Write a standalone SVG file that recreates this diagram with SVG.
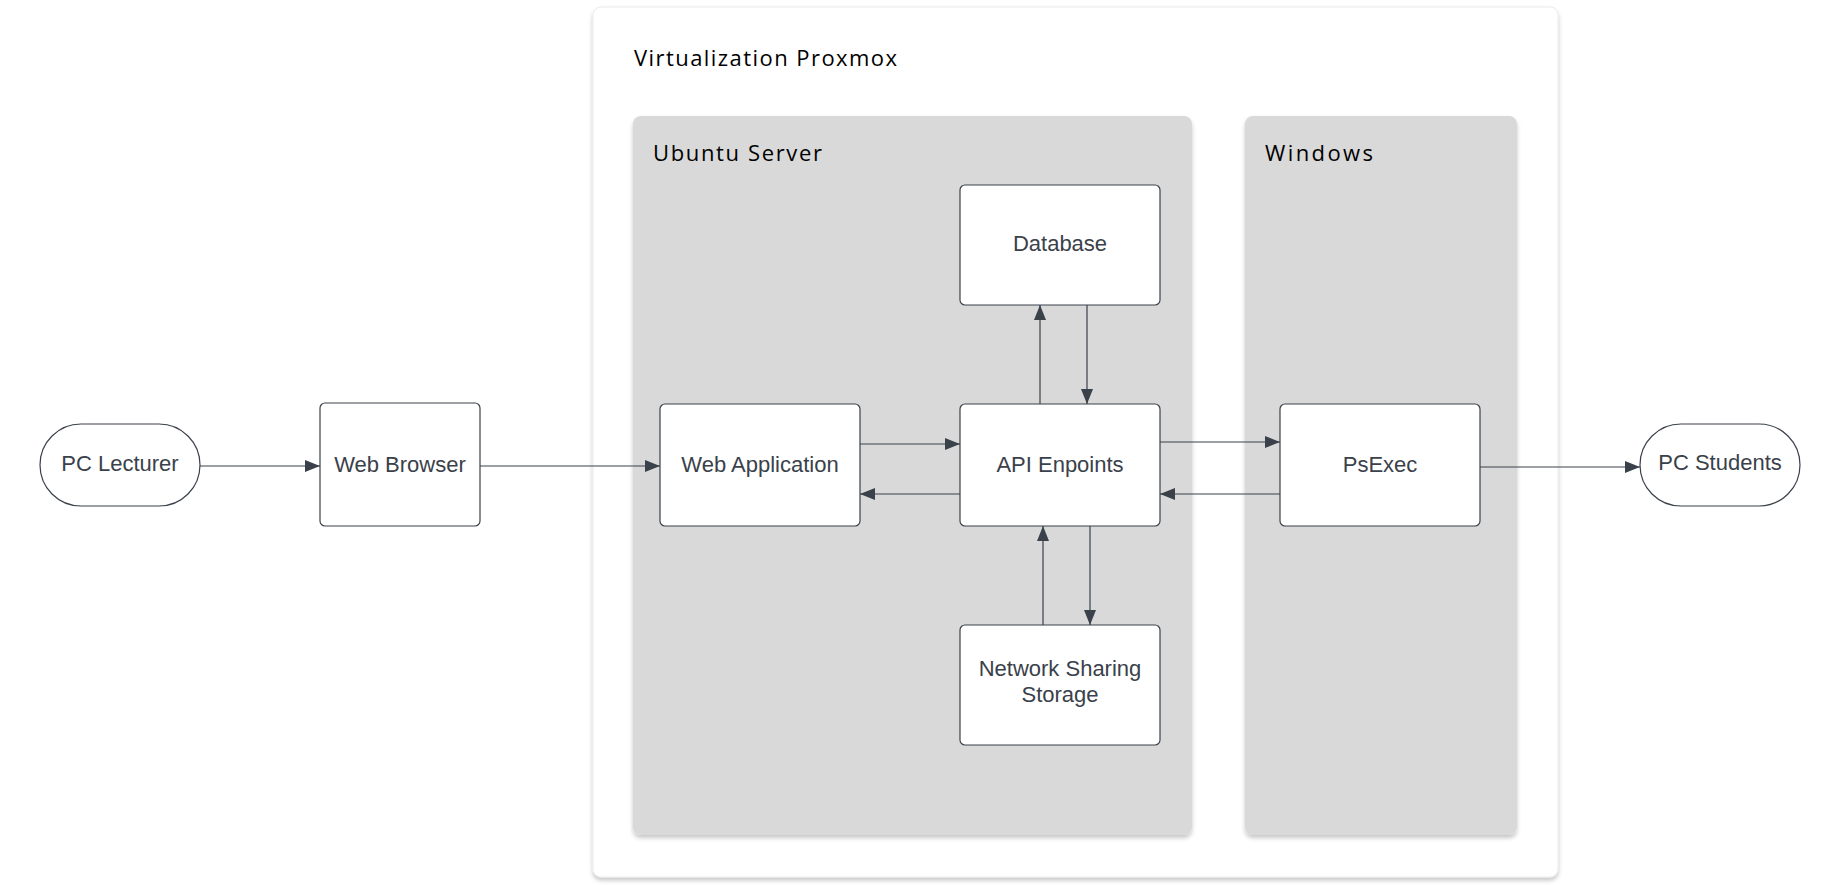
<svg xmlns="http://www.w3.org/2000/svg" width="1840" height="885" viewBox="0 0 1840 885">
<style>
.node{fill:#ffffff;stroke:#3a414a;stroke-width:1.2}
.lbl{font-family:"Liberation Sans",Arial,sans-serif;font-size:22px;fill:#3a414a;text-anchor:middle}
.title{font-family:"Open Sans","Noto Sans",sans-serif;font-size:22px;fill:#000000}
.panel{fill:#d9d9d9}
.edge{fill:none;stroke:#3a414a;stroke-width:1.2}
</style>
<defs>
<filter id="sh" x="-5%" y="-5%" width="110%" height="110%">
<feDropShadow dx="0" dy="3" stdDeviation="2" flood-color="#000" flood-opacity="0.22"/>
</filter>
<marker id="ah" markerUnits="userSpaceOnUse" markerWidth="16" markerHeight="12" refX="15" refY="6" orient="auto">
<path d="M0,0 L15,6 L0,12 Z" fill="#3a414a"/>
</marker>
</defs>
<rect width="1840" height="885" fill="#ffffff"/>
<g id="proxmox">
<rect x="593" y="7" width="965" height="870" rx="8" fill="#ffffff" stroke="#ebebeb" stroke-width="1" filter="url(#sh)"/>
<text class="title" x="634" y="66" textLength="263" lengthAdjust="spacing">Virtualization Proxmox</text>
</g>
<g id="ubuntu">
<rect class="panel" x="633" y="116" width="559" height="719" rx="8" filter="url(#sh)"/>
<text class="title" x="653" y="161" textLength="169" lengthAdjust="spacing">Ubuntu Server</text>
</g>
<g id="windows">
<rect class="panel" x="1245" y="116" width="272" height="719" rx="8" filter="url(#sh)"/>
<text class="title" x="1265" y="161" textLength="108" lengthAdjust="spacing">Windows</text>
</g>
<g id="connectors">
<path class="edge" d="M200,466 L320,466" marker-end="url(#ah)"/>
<path class="edge" d="M480,466 L660,466" marker-end="url(#ah)"/>
<path class="edge" d="M860,444 L960,444" marker-end="url(#ah)"/>
<path class="edge" d="M960,494 L860,494" marker-end="url(#ah)"/>
<path class="edge" d="M1040,404 L1040,305" marker-end="url(#ah)"/>
<path class="edge" d="M1087,305 L1087,404" marker-end="url(#ah)"/>
<path class="edge" d="M1160,442 L1280,442" marker-end="url(#ah)"/>
<path class="edge" d="M1280,494 L1160,494" marker-end="url(#ah)"/>
<path class="edge" d="M1043,625 L1043,526" marker-end="url(#ah)"/>
<path class="edge" d="M1090,526 L1090,625" marker-end="url(#ah)"/>
<path class="edge" d="M1480,467 L1640,467" marker-end="url(#ah)"/>
</g>
<g id="pc-lecturer">
<rect class="node" x="40" y="424" width="160" height="82" rx="41"/>
<text class="lbl" x="120" y="471">PC Lecturer</text>
</g>
<g id="web-browser">
<rect class="node" x="320" y="403" width="160" height="123" rx="5"/>
<text class="lbl" x="400" y="472">Web Browser</text>
</g>
<g id="web-application">
<rect class="node" x="660" y="404" width="200" height="122" rx="5"/>
<text class="lbl" x="760" y="472">Web Application</text>
</g>
<g id="database">
<rect class="node" x="960" y="185" width="200" height="120" rx="5"/>
<text class="lbl" x="1060" y="251">Database</text>
</g>
<g id="api-endpoints">
<rect class="node" x="960" y="404" width="200" height="122" rx="5"/>
<text class="lbl" x="1060" y="472">API Enpoints</text>
</g>
<g id="network-storage">
<rect class="node" x="960" y="625" width="200" height="120" rx="5"/>
<text class="lbl" x="1060" y="676">Network Sharing</text>
<text class="lbl" x="1060" y="702">Storage</text>
</g>
<g id="psexec">
<rect class="node" x="1280" y="404" width="200" height="122" rx="5"/>
<text class="lbl" x="1380" y="472">PsExec</text>
</g>
<g id="pc-students">
<rect class="node" x="1640" y="424" width="160" height="82" rx="41"/>
<text class="lbl" x="1720" y="470">PC Students</text>
</g>
</svg>
